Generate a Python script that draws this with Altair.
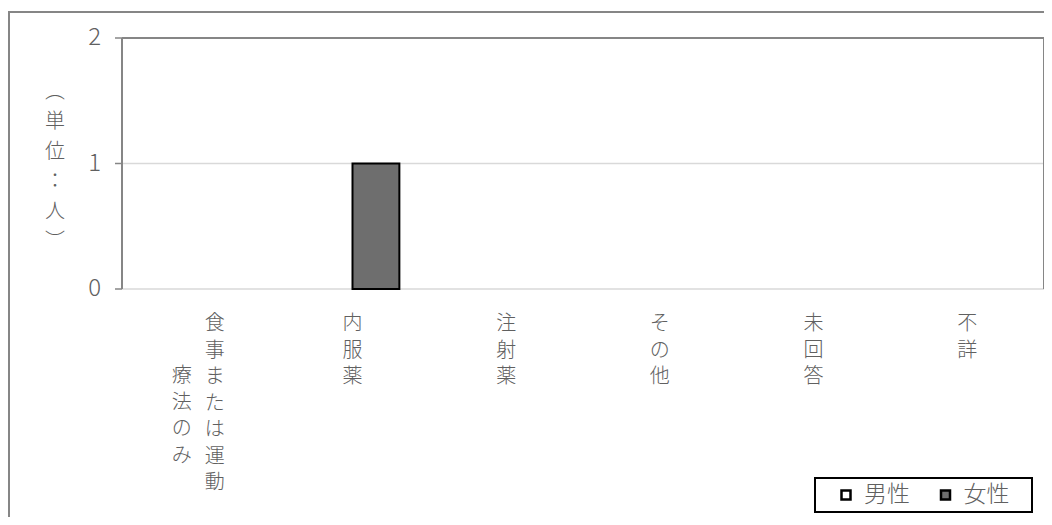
import altair as alt
import pandas as pd

# ---- data ----
categories = ["食事または運動療法のみ", "内服薬", "注射薬", "その他", "未回答", "不詳"]
series = ["男性", "女性"]
male_values = [0, 0, 0, 0, 0, 0]
female_values = [0, 1, 0, 0, 0, 0]
y_ticks = [0, 1, 2]
y_title = ["︵", "単", "位", "：", "人", "︶"]
# vertical label columns per category (right column first)
label_columns = [["食事または運動", "療法のみ"], ["内服薬"], ["注射薬"], ["その他"], ["未回答"], ["不詳"]]

rows = []
for c, m, f in zip(categories, male_values, female_values):
    rows.append({"cat": c, "series": "男性", "value": m})
    rows.append({"cat": c, "series": "女性", "value": f})
df = pd.DataFrame(rows)

lab_main = pd.DataFrame([{"cat": c, "t": "\n".join(cols[0])}
                         for c, cols in zip(categories, label_columns) if len(cols) == 1])
lab_first_a = pd.DataFrame([{"cat": categories[0], "t": "\n".join(label_columns[0][0])}])
lab_first_b = pd.DataFrame([{"cat": categories[0], "t": "\n".join(label_columns[0][1])}])
title_df = pd.DataFrame([{"t": "\n".join(y_title)}])
tick_df = pd.DataFrame({"v": y_ticks})
legend_df = pd.DataFrame({"series": series})

W, H = 922, 251
GRAY = "#606060"
BORDER = "#868686"
FONT = "Noto Sans CJK JP"

xscale = alt.Scale(domain=categories, paddingInner=0.39, paddingOuter=0.195)
yscale = alt.Scale(domain=[0, 2], nice=False)
cscale = alt.Scale(domain=series, range=["white", "#6e6e6e"])
xenc = alt.X("cat:N", scale=xscale, sort=categories, axis=None)

# y axis pieces driven by the y scale
grid = alt.Chart(tick_df).mark_rule(color="#d9d9d9", strokeWidth=1.5).encode(
    y=alt.Y("v:Q", scale=yscale, axis=None), x=alt.value(0), x2=alt.value(W))
ticks = alt.Chart(tick_df).mark_rule(color=BORDER, strokeWidth=1.5).encode(
    y=alt.Y("v:Q", scale=yscale, axis=None), x=alt.value(-7), x2=alt.value(0))
tick_labels = alt.Chart(tick_df).mark_text(
    align="right", baseline="middle", fontSize=24, font=FONT, color=GRAY, fontWeight=300
).encode(y=alt.Y("v:Q", scale=yscale, axis=None), x=alt.value(-21), text="v:Q")

bars = alt.Chart(df).transform_filter("datum.value > 0").mark_bar(
    stroke="black", strokeWidth=2
).encode(
    x=xenc,
    xOffset=alt.XOffset("series:N", scale=alt.Scale(domain=series), sort=series),
    y=alt.Y("value:Q", scale=yscale, axis=None),
    color=alt.Color("series:N", scale=cscale, legend=None),
)

def vtext(data, dx, y, lh=26.5):
    return alt.Chart(data).mark_text(
        lineBreak="\n", lineHeight=lh, fontSize=20, font=FONT, color=GRAY,
        baseline="alphabetic", align="center", dx=dx, fontWeight=300
    ).encode(x=alt.X("cat:N", scale=xscale, sort=categories), y=alt.value(y), text="t:N")

labels = vtext(lab_main, 0, 292) + vtext(lab_first_a, 16, 292) + vtext(lab_first_b, -17, 344)

ytitle = alt.Chart(title_df).mark_text(
    lineBreak="\n", lineHeight=30, fontSize=20, font=FONT, color=GRAY,
    baseline="alphabetic", align="center", fontWeight=300
).encode(x=alt.value(-67), y=alt.value(60), text="t:N")

left_rule = alt.Chart(title_df).mark_rule(color=BORDER, strokeWidth=2).encode(
    x=alt.value(0), y=alt.value(0), y2=alt.value(H))
top_rule = alt.Chart(title_df).mark_rule(color=BORDER, strokeWidth=2).encode(
    x=alt.value(0), x2=alt.value(W), y=alt.value(0))
right_rule = alt.Chart(title_df).mark_rule(color=BORDER, strokeWidth=2).encode(
    x=alt.value(W), y=alt.value(0), y2=alt.value(H))
frame = alt.Chart(title_df).mark_rect(fillOpacity=0, stroke=BORDER, strokeWidth=2).encode(
    x=alt.value(-113), x2=alt.value(W + 100), y=alt.value(-26), y2=alt.value(H + 400))

# legend (box, swatches from the colour scale, labels)
leg_box = alt.Chart(title_df).mark_rect(fill="white", stroke="black", strokeWidth=2).encode(
    x=alt.value(693), x2=alt.value(910), y=alt.value(440), y2=alt.value(474))
leg_items = []
for name, sx in zip(series, [724, 823.5]):
    sub = legend_df[legend_df["series"] == name]
    leg_items.append(alt.Chart(sub).mark_square(size=81, stroke="black", strokeWidth=2.5, opacity=1).encode(
        x=alt.value(sx), y=alt.value(457), color=alt.Color("series:N", scale=cscale, legend=None)))
    leg_items.append(alt.Chart(sub).mark_text(
        align="left", baseline="middle", fontSize=23, font=FONT, color=GRAY, fontWeight=300
    ).encode(x=alt.value(sx + 18), y=alt.value(457), text="series:N"))

chart = alt.layer(frame, grid, bars, ticks, tick_labels, labels, ytitle,
                  left_rule, top_rule, right_rule, leg_box, *leg_items).properties(
    width=W, height=H,
    autosize=alt.AutoSizeParams(type="none"),
    padding={"left": 114, "top": 30, "right": 0, "bottom": 228},
).configure_view(stroke=None)

chart.save("out.html", embed_options={"renderer": "svg", "actions": False})
